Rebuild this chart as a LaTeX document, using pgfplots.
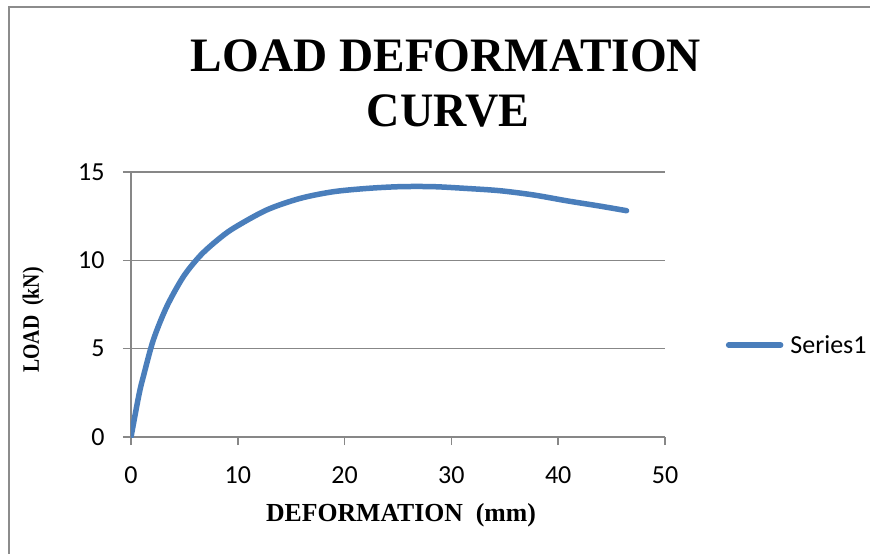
\documentclass[border=0pt]{standalone}
\usepackage{fontspec}
\usepackage{pgfplots}
\pgfplotsset{compat=1.18}
\setmainfont{Liberation Serif}
\newfontfamily\carlito{Carlito}
\definecolor{serblue}{HTML}{4A7EBB}
\definecolor{axgray}{HTML}{878787}
\definecolor{framegray}{HTML}{8C8C8C}
\begin{document}
\begin{tikzpicture}
\useasboundingbox (-131pt,-117pt) rectangle (739pt,437pt);
\fill[white] (-131pt,-117pt) rectangle (739pt,437pt);
\draw[framegray, line width=2pt] (-122pt,-120pt) -- (-122pt,430pt) -- (742pt,430pt);
\begin{axis}[
  at={(0pt,0pt)}, anchor=origin,
  scale only axis, width=534pt, height=265pt,
  xmin=0, xmax=50, ymin=0, ymax=15,
  xtick={0,10,20,30,40,50}, ytick={0,5,10,15},
  axis x line*=bottom, axis y line*=left,
  axis line style={axgray, line width=1.5pt, -},
  ymajorgrids, grid style={axgray, line width=1.5pt},
  tick align=outside, major tick length=8pt,
  tick style={axgray, line width=1.5pt},
  /pgf/number format/assume math mode=true,
  ticklabel style={font=\carlito\fontsize{26}{26}\selectfont},
  yticklabel style={xshift=-15pt},
  xticklabel style={yshift=-18pt},
  legend style={draw=none, fill=none, inner sep=0pt, outer sep=0pt,
    at={(axis description cs:1.114,0.347)}, anchor=west,
    nodes={inner sep=0pt, anchor=west, font=\carlito\fontsize{26}{26}\selectfont},
    column sep=7pt},
  legend cell align=left,
  legend image code/.code={\draw[#1, line cap=round] (0pt,0pt) -- (52pt,0pt);},
]
\addplot[serblue, line width=5.5pt, smooth, tension=0.5, line cap=round, line join=round] coordinates {
(0,0) (0.53,1.72) (0.84,2.66) (1.15,3.41) (2.09,5.49) (3.34,7.37) (4.9,9.07) (6.46,10.25)
(8.0,11.1) (9.58,11.81) (12.7,12.85) (15.8,13.5) (18.9,13.88) (22.1,14.07) (25.2,14.17)
(28.3,14.17) (31.4,14.07) (34.55,13.94) (37.7,13.7) (40.8,13.37) (43.9,13.07) (46.4,12.81)
};
\addlegendentry{Series1}
\end{axis}
\node[anchor=base, inner sep=0pt] at (315pt,365pt) {\scalebox{0.985}[1]{\fontsize{48}{48}\selectfont\bfseries LOAD DEFORMATION}};
\node[anchor=base, inner sep=0pt] at (317pt,310pt) {\scalebox{0.96}[1]{\fontsize{48}{48}\selectfont\bfseries CURVE}};
\node[anchor=base, inner sep=0pt] at (270pt,-84.5pt) {\scalebox{0.99}[1]{\fontsize{26}{26}\selectfont\bfseries DEFORMATION\ \ (mm)}};
\node[anchor=base, inner sep=0pt, rotate=90] at (-92pt,117pt) {\scalebox{0.84}[1]{\fontsize{23.5}{23.5}\selectfont\bfseries LOAD\ \ (kN)}};
\end{tikzpicture}
\end{document}
